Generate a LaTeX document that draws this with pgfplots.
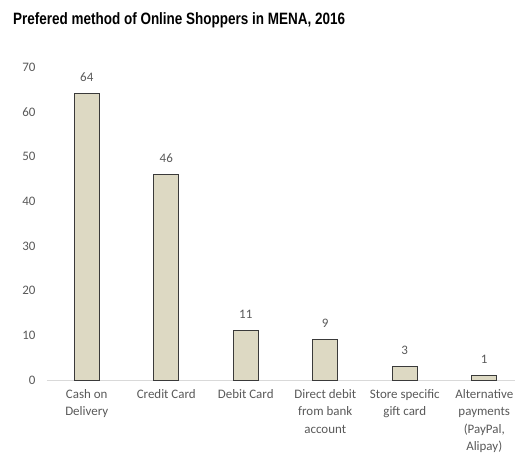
\documentclass[border=0pt]{standalone}
\usepackage{pgfplots}
\pgfplotsset{compat=1.18}
\usepackage{fontspec}
\setmainfont{Carlito}
\newfontfamily\titlefont[FakeStretch=0.82]{Liberation Sans}
\definecolor{barfill}{HTML}{DDD9C3}
\definecolor{baredge}{HTML}{3A3A3A}
\definecolor{labgray}{HTML}{595959}
\definecolor{axgray}{HTML}{D9D9D9}
\begin{document}
\begin{tikzpicture}[x=1bp,y=1bp]
\useasboundingbox (-47,-92) rectangle (471,380);
\node[anchor=base west, inner sep=0pt, font=\titlefont\bfseries\fontsize{16.5}{18}\selectfont] at (-34,355) {Prefered method of Online Shoppers in MENA, 2016};
\begin{axis}[
  at={(0,0)}, anchor=south west,
  scale only axis, width=468bp, height=313bp,
  xmin=-0.5, xmax=5.387, ymin=0, ymax=70,
  ybar, bar width=25bp,
  axis x line*=bottom, axis y line*=left,
  x axis line style={axgray, line width=0.8pt, -},
  y axis line style={draw=none},
  ytick={0,10,...,70},
  xtick=data,
  xticklabels={{Cash on\\Delivery},{Credit Card},{Debit Card},{Direct debit\\from bank\\account},{Store specific\\gift card},{Alternative\\payments\\(PayPal,\\Alipay)}},
  major tick length=0pt,
  /pgf/number format/assume math mode=true,
  tick label style={font=\fontsize{13}{17.5}\selectfont, text=labgray},
  xticklabel style={align=center, anchor=north, yshift=-6bp},
  yticklabel style={anchor=east, xshift=-8bp},
  nodes near coords,
  every node near coord/.append style={font=\fontsize{13}{15}\selectfont, text=labgray, anchor=base, yshift=12bp},
  clip=false,
]
\addplot[fill=barfill, draw=baredge, line width=0.8pt] coordinates {(0,64) (1,46) (2,11) (3,9) (4,3) (5,1)};
\end{axis}
\end{tikzpicture}
\end{document}
